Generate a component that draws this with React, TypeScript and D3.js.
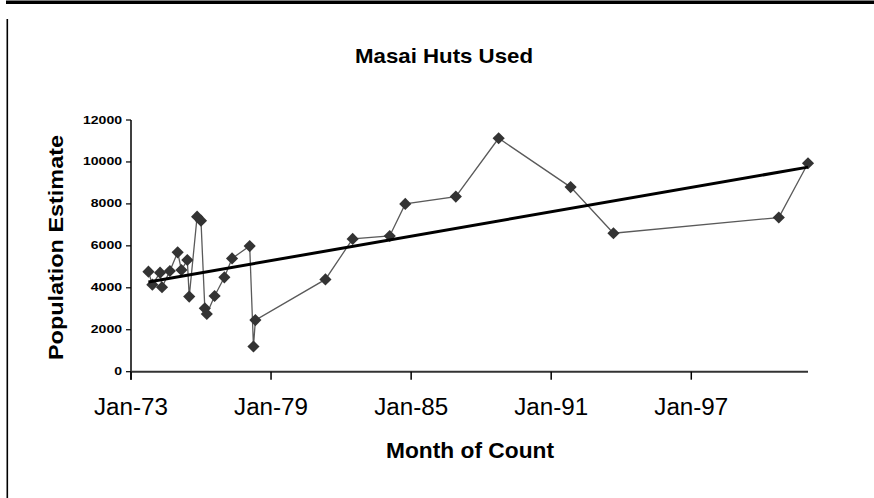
import React from "react";
import * as d3 from "d3";

const countDates = [
  "1973-10", "1973-12", "1974-04", "1974-05", "1974-09", "1975-01", "1975-03",
  "1975-06", "1975-07", "1975-11", "1976-01", "1976-03", "1976-04", "1976-08",
  "1977-01", "1977-05", "1978-02", "1978-04", "1978-05", "1981-05", "1982-07",
  "1984-02", "1984-10", "1986-12", "1988-10", "1991-11", "1993-09", "2000-10",
  "2002-01",
];
const hutCounts = [
  4770, 4150, 4720, 4025, 4800, 5690, 4850, 5325, 3580, 7390, 7200, 3020, 2750,
  3610, 4500, 5400, 5990, 1200, 2460, 4400, 6330, 6470, 8000, 8350, 11130, 8800,
  6600, 7350, 9940,
];
const yTicks = [0, 2000, 4000, 6000, 8000, 10000, 12000];
const xTickDates = ["1973-01", "1979-01", "1985-01", "1991-01", "1997-01"];
const xDomain = ["1973-01", "2002-01"];

const parse = d3.timeParse("%Y-%m");
const fmt = d3.timeFormat("%b-%y");

export default function App() {
  const W = 874, H = 498;
  const left = 131, right = 808, top = 120, bottom = 371.7;
  const x = d3.scaleTime().domain(xDomain.map((s) => parse(s) as Date)).range([left, right]);
  const y = d3.scaleLinear().domain([0, 12000]).range([bottom, top]);

  const pts = countDates.map((s, i) => ({ d: parse(s) as Date, v: hutCounts[i] }));
  const line = d3.line<{ d: Date; v: number }>().x((p) => x(p.d)).y((p) => y(p.v));

  // least squares trendline
  const ts = pts.map((p) => p.d.getTime());
  const mt = d3.mean(ts) as number;
  const mv = d3.mean(hutCounts) as number;
  let sxy = 0, sxx = 0;
  pts.forEach((p, i) => {
    sxy += (ts[i] - mt) * (p.v - mv);
    sxx += (ts[i] - mt) * (ts[i] - mt);
  });
  const slope = sxy / sxx;
  const t0 = d3.min(ts) as number, t1 = d3.max(ts) as number;
  const tv = (t: number) => mv + slope * (t - mt);

  const diamond = d3.symbol().type(d3.symbolSquare).size(74)();

  return (
    <svg width={W} height={H} style={{ position: "absolute", left: 0, top: 0 }}
      fontFamily="'Liberation Sans', Arial, sans-serif">
      <rect x={0} y={0} width={W} height={H} fill="#fff" />
      {/* frame */}
      <rect x={6} y={0.5} width={W - 6} height={3.5} fill="#000" />
      <rect x={6.5} y={19} width={1.6} height={H - 19} fill="#000" />

      {/* title */}
      <text x={444} y={63} textAnchor="middle" fontWeight="bold" fontSize={21}
        textLength={178} lengthAdjust="spacingAndGlyphs">Masai Huts Used</text>

      {/* y axis */}
      <line x1={left} x2={left} y1={top} y2={bottom + 8} stroke="#000" strokeWidth={1.5} />
      {yTicks.map((t) => (
        <g key={t}>
          <line x1={left - 5} x2={left} y1={y(t)} y2={y(t)} stroke="#000" strokeWidth={1.2} />
          <text x={122} y={y(t) + 3.5} textAnchor="end" fontWeight="bold" fontSize={10}
            textLength={String(t).length * 7.8} lengthAdjust="spacingAndGlyphs">{t}</text>
        </g>
      ))}
      <text transform={`translate(63,247.5) rotate(-90)`} textAnchor="middle" fontWeight="bold"
        fontSize={19.5} textLength={225} lengthAdjust="spacingAndGlyphs">Population Estimate</text>

      {/* x axis */}
      <line x1={left} x2={right} y1={bottom} y2={bottom} stroke="#333" strokeWidth={2} />
      {xTickDates.map((s) => {
        const d = parse(s) as Date;
        return (
          <g key={s}>
            <line x1={x(d)} x2={x(d)} y1={bottom} y2={bottom + 8} stroke="#000" strokeWidth={1.5} />
            <text x={x(d)} y={415} textAnchor="middle" fontSize={23}
              textLength={74} lengthAdjust="spacingAndGlyphs">{fmt(d)}</text>
          </g>
        );
      })}
      <text x={470} y={458} textAnchor="middle" fontWeight="bold" fontSize={22.5}
        textLength={168} lengthAdjust="spacingAndGlyphs">Month of Count</text>

      {/* series */}
      <path d={line(pts) as string} fill="none" stroke="#5a5a5a" strokeWidth={1.3} />
      {pts.map((p, i) => (
        <path key={i} d={diamond as string} fill="#333"
          transform={`translate(${x(p.d)},${y(p.v)}) rotate(45)`} />
      ))}
      {/* trendline */}
      <line x1={x(new Date(t0))} y1={y(tv(t0))} x2={x(new Date(t1))} y2={y(tv(t1))}
        stroke="#000" strokeWidth={3} />
    </svg>
  );
}
